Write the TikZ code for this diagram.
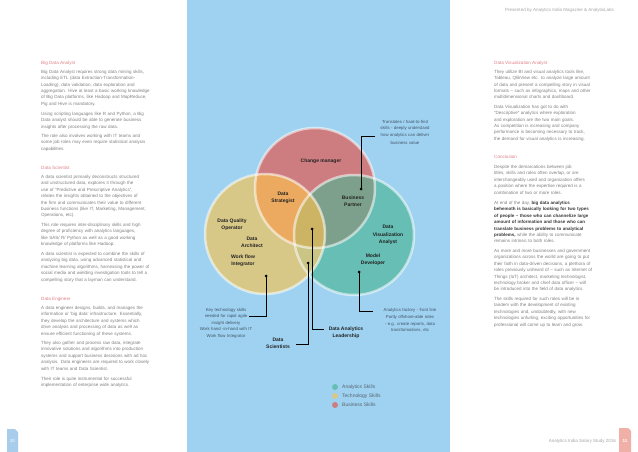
\documentclass[tikz,border=0pt]{standalone}
\usepackage{fontspec}
\setmainfont{Liberation Sans}
\definecolor{panelblue}{HTML}{9ED2F0}
\definecolor{bodygray}{HTML}{808080}
\definecolor{headpink}{HTML}{E0808A}
\definecolor{bolddark}{HTML}{3A3A3A}
\definecolor{lbldark}{HTML}{222222}
\definecolor{notecol}{HTML}{44546A}
\definecolor{legcol}{HTML}{5A6470}
\definecolor{cR}{HTML}{CD7D80}
\definecolor{cY}{HTML}{D8C888}
\definecolor{cT}{HTML}{66BEB4}
\definecolor{cRY}{HTML}{EBAA5F}
\definecolor{cRT}{HTML}{7DA08C}
\definecolor{cYT}{HTML}{CBC585}
\definecolor{cRYT}{HTML}{CDB464}
\definecolor{pgblue}{HTML}{A7CDEB}
\definecolor{pgpink}{HTML}{F0B0A8}
\begin{document}
\begin{tikzpicture}[x=1pt,y=-1pt,
  body/.style={inner sep=0pt, anchor=base west, text width=150pt, align=left, font=\fontsize{4.5}{6.45}\selectfont, text=bodygray},
  head/.style={inner sep=0pt, anchor=base west, font=\fontsize{4.6}{6}\selectfont, text=headpink},
  lbl/.style={inner sep=0pt, align=center, font=\fontsize{5}{7.3}\selectfont\bfseries, text=lbldark},
  note/.style={inner sep=0pt, anchor=base, text width=80pt, align=center, font=\fontsize{4.3}{6.5}\selectfont, text=notecol},
  leg/.style={inner sep=0pt, anchor=west, font=\fontsize{5}{6}\selectfont, text=legcol},
  dot/.style={circle, fill=black, inner sep=0pt, minimum size=3pt},
  conn/.style={draw=black, line width=0.7pt},
  rim/.style={draw=white, draw opacity=0.55, line width=2.5pt},
]
\useasboundingbox (0,0) rectangle (638,452);
\fill[white] (0,0) rectangle (638,452);
\fill[panelblue] (187,0) rectangle (450,452);

% ---------- Venn diagram ----------
\coordinate (R) at (315,188);
\coordinate (Y) at (265,234);
\coordinate (T) at (354,235);
\fill[cR] (R) circle[radius=60pt];
\fill[cY] (Y) circle[radius=60pt];
\fill[cT] (T) circle[radius=60pt];
\begin{scope}\clip (R) circle[radius=60pt]; \fill[cRY] (Y) circle[radius=60pt];\end{scope}
\begin{scope}\clip (R) circle[radius=60pt]; \fill[cRT] (T) circle[radius=60pt];\end{scope}
\begin{scope}\clip (Y) circle[radius=60pt]; \fill[cYT] (T) circle[radius=60pt];\end{scope}
\begin{scope}\clip (R) circle[radius=60pt]; \clip (Y) circle[radius=60pt]; \fill[cRYT] (T) circle[radius=60pt];\end{scope}
\draw[rim] (R) circle[radius=60pt];
\draw[rim] (Y) circle[radius=60pt];
\draw[rim] (T) circle[radius=60pt];

\node[lbl] (lCM) at (321,161) {Change manager};
\node[lbl] (lDS) at (283,197.5) {Data\\Strategist};
\node[lbl] (lBP) at (353,201.5) {Business\\Partner};
\node[lbl] (lDQ) at (232,225) {Data Quality\\Operator};
\node[lbl] (lDA) at (252,242) {Data\\Architect};
\node[lbl] (lWF) at (243,261) {Work flow\\Integrator};
\node[lbl] (lDV) at (388,235) {Data\\Visualization\\Analyst};
\node[lbl] (lMD) at (373,259.5) {Model\\Developer};

% ---------- connectors ----------
\coordinate (eBP) at (375,136);
\coordinate (eC) at (324,329);
\coordinate (eYT) at (296,344);
\coordinate (eY) at (249,316);
\coordinate (eT) at (373,311);
\node[dot] (dBP) at (361,189) {};
\node[dot] (dC) at (312,229) {};
\node[dot] (dYT) at (308,263) {};
\node[dot] (dY) at (266,276) {};
\node[dot] (dT) at (359,272) {};
\draw[conn] (dBP.center) |- (eBP);
\draw[conn] (dC.center) |- (eC);
\draw[conn] (dYT.center) |- (eYT);
\draw[conn] (dY.center) |- (eY);
\draw[conn] (dT.center) |- (eT);

\node[note] (nBP) at (405,123.2) {Translates / hard-to-find\\skills - deeply understand\\how analytics can deliver\\[1.5pt]business value};
\node[note] (nT) at (410,311.2) {Analytics factory - front line\\[1pt]Partly offshore-able roles\\- e.g. create reports, data\\transformations, etc};
\node[note] (nY) at (226,311.2) {Key technology skills\\needed for rapid agile\\insight delivery\\Work hand -in-hand with IT\\Work flow Integrator};
\node[lbl] (lSci) at (278,343.5) {Data\\Scientists};
\node[lbl] (lLead) at (346,332.5) {Data Analytics\\Leadership};

% ---------- legend ----------
\fill[cT] (335,387) circle[radius=3pt];
\fill[cY] (335,396) circle[radius=3pt];
\fill[cR] (335,405) circle[radius=3pt];
\node[leg] (gA) at (342,387) {Analytics Skills};
\node[leg] (gT) at (342,396) {Technology Skills};
\node[leg] (gB) at (342,405) {Business Skills};

% ---------- left column ----------
\node[head] (h1) at (41,64.2) {Big Data Analyst};
\node[body] (p11) at (41,73.2) {Big Data Analyst requires strong data mining skills,\\including ETL (data Extraction-Transformation-\\Loading), data validation, data exploration and\\aggregation. Hive at least a basic working knowledge\\of Big Data platforms, like Hadoop and MapReduce,\\Pig and Hive is mandatory.};
\node[body] (p12) at (41,115.2) {Using scripting languages like R and Python, a Big\\Data analyst should be able to generate business\\insights after processing the raw data.};
\node[body] (p13) at (41,137.2) {The role also involves working with IT teams and\\some job roles may even require statistical analysis\\capabilities.};

\node[head] (h2) at (41,169.2) {Data Scientist};
\node[body] (p21) at (41,178.2) {A data scientist primarily deconstructs structured\\and unstructured data, explores it through the\\use of “Predictive and Prescriptive Analytics”,\\relates the insights obtained to the objectives of\\the firm and communicates their value to different\\business functions (like IT, Marketing, Management,\\Operations, etc).};
\node[body] (p22) at (41,226.2) {This role requires inter-disciplinary skills and high\\degree of proficiency with analytics languages,\\like SAS/ R/ Python as well as a good working\\knowledge of platforms like Hadoop.};
\node[body] (p23) at (41,255.2) {A data scientist is expected to combine the skills of\\analyzing big data, using advanced statistical and\\machine learning algorithms, harnessing the power of\\social media and wielding investigation tools to tell a\\compelling story that a layman can understand.};

\node[head] (h3) at (41,300.2) {Data Engineer};
\node[body] (p31) at (41,309.2) {A data engineer designs, builds, and manages the\\information or ‘big data’ infrastructure. Essentially,\\they develop the architecture and systems which\\drive analysis and processing of data as well as\\ensure efficient functioning of these systems.};
\node[body] (p32) at (41,344.2) {They also gather and process raw data, integrate\\innovative solutions and algorithms into production\\systems and support business decisions with ad hoc\\analysis. Data engineers are required to work closely\\with IT teams and Data Scientist.};
\node[body] (p33) at (41,380.2) {Their role is quite instrumental for successful\\implementation of enterprise wide analytics.};

% ---------- right column ----------
\node[inner sep=0pt, anchor=base east, font=\fontsize{4.5}{6}\selectfont, text=black!35] (hdr) at (614,11.2) {Presented by Analytics India Magazine \& AnalytixLabs};
\node[head] (h4) at (494,64.2) {Data Visualization Analyst};
\node[body] (p41) at (494,73.2) {They utilize BI and visual analytics tools like,\\Tableau, QlikView etc. to analyze large amount\\of data and present a compelling story in visual\\formats – such as infographics, maps and other\\multidimensional charts and dashboard.};
\node[body] (p42) at (494,108.2) {Data Visualization has got to do with\\“Descriptive” analytics where exploration\\and exploration are the two main goals.\\As competition is increasing and company\\performance is becoming necessary to track,\\the demand for visual analytics is increasing.};

\node[head] (h5) at (494,158.2) {Conclusion};
\node[body] (p51) at (494,168.2) {Despite the demarcations between job\\titles, skills and roles often overlap, or are\\interchangeably used and organization offers\\a position where the expertise required is a\\combination of two or more roles.};
\node[body] (p52) at (494,204.2) {At end of the day, {\color{bolddark}\bfseries big data analytics}\\{\color{bolddark}\bfseries behemoth is basically looking for two types}\\{\color{bolddark}\bfseries of people – those who can channelize large}\\{\color{bolddark}\bfseries amount of information and those who can}\\{\color{bolddark}\bfseries translate business problems to analytical}\\{\color{bolddark}\bfseries problems,} while the ability to communicate\\remains intrinsic to both roles.};
\node[body] (p53) at (494,252.2) {As more and more businesses and government\\organizations across the world are going to put\\their faith in data-driven decisions, a plethora of\\roles previously unheard of – such as Internet of\\Things (IoT) architect, marketing technologist,\\technology broker and chief data officer – will\\be introduced into the field of data analytics.};
\node[body] (p54) at (494,300.2) {The skills required for such roles will be in\\tandem with the development of existing\\technologies and, undoubtedly, with new\\technologies unfurling, exciting opportunities for\\professional will come up to learn and grow.};

% ---------- footer / page numbers ----------
\node[inner sep=0pt, anchor=base east, font=\fontsize{4.5}{6}\selectfont, text=black!35] (ftr) at (616,442.2) {Analytics India Salary Study 2016};
\fill[pgblue] (7,429) -- (15,429) -- (18,432) -- (18,452) -- (7,452) -- cycle;
\node[inner sep=0pt, font=\fontsize{4.5}{6}\selectfont, text=white] (pg10) at (12.5,441) {10};
\fill[pgpink] (619,428) -- (628,428) -- (631,431) -- (631,452) -- (619,452) -- cycle;
\node[inner sep=0pt, font=\fontsize{4.5}{6}\selectfont\bfseries, text=white] (pg11) at (625,441) {11};
\end{tikzpicture}
\end{document}
